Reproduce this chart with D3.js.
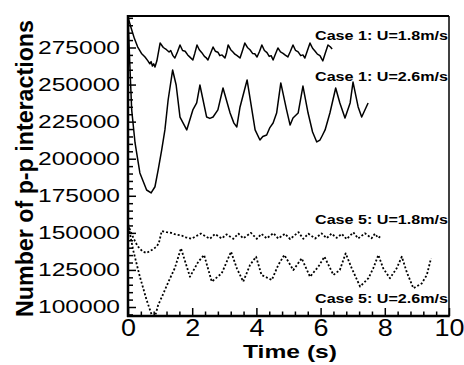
<!DOCTYPE html>
<html>
<head>
<meta charset="utf-8">
<script src="https://cdn.jsdelivr.net/npm/d3@7"></script>
<style>
  body { margin: 0; background: #fff; }
  svg { display: block; }
  text { font-family: "Liberation Sans", Arial, Helvetica, sans-serif; fill: #000; }
</style>
</head>
<body>
<div id="chart"></div>
<script>
// time (s) vs number of p-p interactions
const case1_18 = [[0, 295500], [0.1, 288000], [0.2, 281000], [0.3, 275500], [0.42, 271000], [0.53, 268600],
  [0.62, 266000], [0.68, 264000], [0.72, 265500], [0.76, 262500], [0.8, 264000], [0.84, 261800], [0.9, 266000],
  [1.0, 278000], [1.1, 275000], [1.2, 273500], [1.28, 272000], [1.33, 273000], [1.4, 269500], [1.46, 267900],
  [1.54, 272000], [1.62, 276700], [1.7, 273000], [1.78, 272500], [1.86, 270000], [1.93, 268500], [2.02, 266600],
  [2.08, 271000], [2.15, 276700], [2.22, 273500], [2.3, 271500], [2.38, 269000], [2.43, 268200], [2.49, 266600],
  [2.57, 271000], [2.65, 275300], [2.72, 272500], [2.8, 271800], [2.86, 269500], [2.93, 270000], [3.02, 267900],
  [3.07, 271500], [3.12, 276700], [3.2, 273500], [3.27, 272000], [3.33, 270500], [3.4, 269500], [3.49, 267900],
  [3.56, 272500], [3.64, 278000], [3.72, 275000], [3.8, 273500], [3.88, 271000], [3.95, 270800], [4.02, 268600],
  [4.1, 272500], [4.17, 276700], [4.25, 273000], [4.33, 271500], [4.4, 269000], [4.46, 269500], [4.52, 266600],
  [4.6, 271000], [4.67, 274700], [4.75, 272000], [4.83, 271000], [4.9, 269800], [4.98, 268600], [5.06, 272500],
  [5.14, 276700], [5.22, 273000], [5.3, 272000], [5.38, 269500], [5.45, 270000], [5.51, 267900], [5.59, 273000],
  [5.67, 278000], [5.75, 274500], [5.83, 272500], [5.9, 270500], [5.98, 269500], [6.03, 267500], [6.07, 266000],
  [6.15, 271500], [6.23, 276700], [6.3, 275500], [6.36, 274000]];

const case1_26 = [[0, 295600], [0.06, 261900], [0.115, 232900], [0.22, 210600], [0.37, 190400], [0.58, 178900],
  [0.72, 176900], [0.84, 181100], [0.94, 192400], [1.05, 205900], [1.15, 219400], [1.25, 239600], [1.39, 259800],
  [1.5, 249700], [1.62, 228100], [1.83, 219400], [2.02, 232900], [2.14, 237600], [2.24, 249700], [2.45, 228100],
  [2.55, 227200], [2.65, 228100], [2.8, 232900], [2.96, 247700], [3.18, 230800], [3.3, 224000], [3.39, 221400],
  [3.49, 234900], [3.71, 253100], [3.96, 219400], [4.11, 212600], [4.2, 215000], [4.32, 216000], [4.42, 221000],
  [4.52, 224100], [4.63, 230800], [4.76, 251100], [4.94, 232900], [5.05, 222700], [5.14, 227500], [5.3, 230800],
  [5.45, 249000], [5.61, 230800], [5.75, 218000], [5.88, 211300], [5.98, 212600], [6.05, 215500], [6.14, 219400],
  [6.29, 230800], [6.47, 247700], [6.6, 237600], [6.76, 227500], [6.92, 237600], [7.01, 251700], [7.17, 234900],
  [7.28, 228100], [7.48, 237600]];

const case5_18 = [[0, 155500], [0.08, 151000], [0.18, 146000], [0.3, 141000], [0.45, 137500], [0.58, 136400],
  [0.74, 138400], [0.89, 140700], [0.96, 143000], [1.05, 151200], [1.2, 150500], [1.36, 149900], [1.5, 148800],
  [1.67, 148200], [1.8, 147000], [1.98, 146000], [2.1, 147500], [2.27, 149500], [2.4, 147800], [2.55, 146000],
  [2.71, 149200], [2.92, 146200], [3.07, 149000], [3.28, 146000], [3.44, 149500], [3.59, 146300], [3.83, 150000],
  [4.01, 146000], [4.16, 149300], [4.32, 146300], [4.53, 149800], [4.68, 146200], [4.89, 149400], [5.05, 145800],
  [5.31, 150500], [5.46, 146000], [5.62, 149400], [5.83, 146200], [6.03, 149600], [6.19, 146400], [6.34, 149500],
  [6.5, 146600], [6.66, 149300], [6.81, 145800], [7.02, 150300], [7.17, 146200], [7.38, 149700], [7.59, 146400],
  [7.69, 149400], [7.8, 146500], [7.9, 148500]];

const case5_26 = [[0, 156500], [0.16, 138400], [0.37, 120400], [0.58, 104700], [0.74, 94600], [0.82, 92000],
  [0.94, 101300], [1.1, 109000], [1.26, 117000], [1.46, 126300], [1.65, 139600], [1.93, 120400], [2.19, 130500],
  [2.37, 135100], [2.61, 117100], [2.92, 122700], [3.21, 137300], [3.39, 126100], [3.59, 117100], [3.8, 128300],
  [3.99, 133900], [4.16, 121600], [4.48, 118200], [4.68, 128300], [4.87, 135100], [5.15, 124900], [5.41, 132800],
  [5.67, 120400], [5.93, 127200], [6.12, 133900], [6.4, 121600], [6.6, 125000], [6.78, 136200], [6.97, 126100],
  [7.23, 113800], [7.49, 119400], [7.64, 126100], [7.8, 135100], [7.95, 126100], [8.16, 119400], [8.37, 126100],
  [8.53, 133900], [8.68, 123800], [8.89, 112600], [9.15, 115900], [9.31, 121600], [9.44, 132800]];

const series = [
  { name: "Case 1: U=1.8m/s", data: case1_18, dotted: false, labelY: 40 },
  { name: "Case 1: U=2.6m/s", data: case1_26, dotted: false, labelY: 81 },
  { name: "Case 5: U=1.8m/s", data: case5_18, dotted: true, labelY: 224 },
  { name: "Case 5: U=2.6m/s", data: case5_26, dotted: true, labelY: 303 }
];

const xTicks = [0, 2, 4, 6, 8, 10];
const yTicks = [100000, 125000, 150000, 175000, 200000, 225000, 250000, 275000];

const width = 464, height = 365;
const mLeft = 128, mRight = 449, mTop = 16, mBottom = 316;

const x = d3.scaleLinear().domain([0, 10]).range([mLeft, mRight]);
const y = d3.scaleLinear().domain([93930, 296240]).range([mBottom, mTop]);

const svg = d3.select("#chart").append("svg")
  .attr("width", width)
  .attr("height", height);

svg.append("defs").append("clipPath").attr("id", "plot-clip")
  .append("rect")
  .attr("x", mLeft).attr("y", mTop)
  .attr("width", mRight - mLeft).attr("height", mBottom - mTop);

// minor ticks every 0.4 s and every 5000
const xMinor = d3.range(0, 10.001, 0.4).filter((d) => Math.abs(d / 2 - Math.round(d / 2)) > 1e-6);
const yMinor = d3.range(95000, 296000, 5000).filter((d) => d % 25000 !== 0);

const xMinorG = svg.append("g")
  .attr("transform", `translate(0,${mBottom})`)
  .call(d3.axisBottom(x).tickValues(xMinor).tickSizeInner(-4.5).tickSizeOuter(0).tickFormat(""));
xMinorG.select(".domain").remove();

const xMajor = svg.append("g")
  .attr("transform", `translate(0,${mBottom})`)
  .call(d3.axisBottom(x).tickValues(xTicks).tickSizeInner(-8).tickSizeOuter(0));
xMajor.select(".domain").remove();
xMajor.selectAll(".tick text")
  .attr("font-size", 23)
  .attr("font-family", null)
  .attr("y", 4)
  .attr("dy", "0.71em")
  .attr("textLength", (d) => String(d).length * 15)
  .attr("lengthAdjust", "spacingAndGlyphs");

const yMinorG = svg.append("g")
  .attr("transform", `translate(${mLeft},0)`)
  .call(d3.axisLeft(y).tickValues(yMinor).tickSizeInner(-5).tickSizeOuter(0).tickFormat(""));
yMinorG.select(".domain").remove();

const yMajor = svg.append("g")
  .attr("transform", `translate(${mLeft},0)`)
  .call(d3.axisLeft(y).tickValues(yTicks).tickSizeInner(-8).tickSizeOuter(0).tickPadding(8).tickFormat(d3.format("d")));
yMajor.select(".domain").remove();
yMajor.selectAll(".tick text")
  .attr("font-size", 18.5)
  .attr("font-family", null)
  .attr("textLength", 82)
  .attr("lengthAdjust", "spacingAndGlyphs");

svg.selectAll(".tick line").attr("stroke", "#000").attr("stroke-width", 1.5);

// frame
svg.append("line").attr("x1", mLeft).attr("x2", mRight).attr("y1", mTop).attr("y2", mTop)
  .attr("stroke", "#000").attr("stroke-width", 2);
svg.append("line").attr("x1", mRight).attr("x2", mRight).attr("y1", mTop).attr("y2", mBottom)
  .attr("stroke", "#000").attr("stroke-width", 1.5);
svg.append("line").attr("x1", mLeft).attr("x2", mLeft).attr("y1", mTop - 1).attr("y2", mBottom + 1)
  .attr("stroke", "#000").attr("stroke-width", 2.5);
svg.append("line").attr("x1", mLeft - 1).attr("x2", mRight + 0.75).attr("y1", mBottom).attr("y2", mBottom)
  .attr("stroke", "#000").attr("stroke-width", 2.5);

const line = d3.line().x((d) => x(d[0])).y((d) => y(d[1]));

svg.append("g")
  .attr("clip-path", "url(#plot-clip)")
  .selectAll("path")
  .data(series)
  .join("path")
  .attr("d", (d) => line(d.data))
  .attr("fill", "none")
  .attr("stroke", "#000")
  .attr("stroke-width", (d) => (d.dotted ? 1.8 : 1.5))
  .attr("stroke-dasharray", (d) => (d.dotted ? "2,2" : null))
  .attr("stroke-linejoin", "round");

svg.append("g")
  .selectAll("text")
  .data(series)
  .join("text")
  .attr("x", 315)
  .attr("y", (d) => d.labelY)
  .attr("font-size", 13.5)
  .attr("font-weight", "bold")
  .attr("textLength", 133)
  .attr("lengthAdjust", "spacingAndGlyphs")
  .text((d) => d.name);

svg.append("text")
  .attr("x", (mLeft + mRight) / 2 + 1.5)
  .attr("y", 358)
  .attr("text-anchor", "middle")
  .attr("font-size", 19)
  .attr("font-weight", "bold")
  .attr("textLength", 94)
  .attr("lengthAdjust", "spacingAndGlyphs")
  .text("Time (s)");

svg.append("text")
  .attr("transform", "translate(33,168.5) rotate(-90)")
  .attr("text-anchor", "middle")
  .attr("font-size", 23)
  .attr("font-weight", "bold")
  .attr("textLength", 297)
  .attr("lengthAdjust", "spacingAndGlyphs")
  .text("Number of p-p interactions");
</script>
</body>
</html>
